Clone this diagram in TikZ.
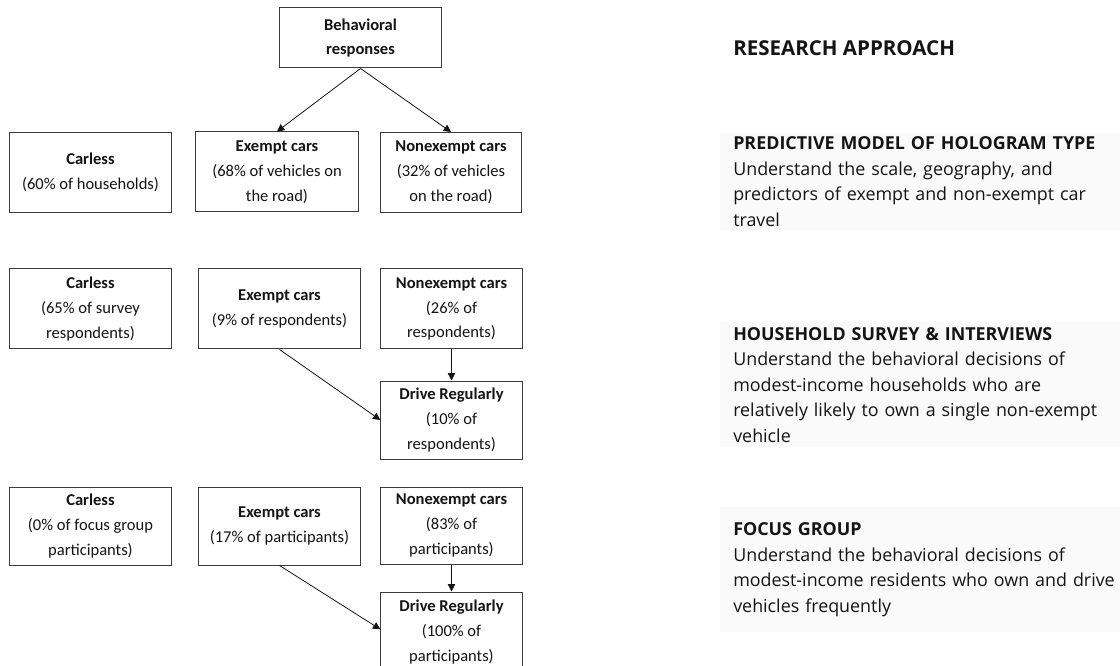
\documentclass[tikz,border=0pt]{standalone}
\usepackage{fontspec}
\setmainfont{Carlito}
\newfontfamily\notefont{Open Sans}
\usetikzlibrary{arrows.meta, positioning}
\definecolor{myline}{RGB}{60,60,60}
\definecolor{mydark}{RGB}{20,20,20}
\definecolor{hdrgray}{RGB}{250,250,250}
\tikzset{
  box/.style={rectangle, draw=myline, fill=white, align=center,
    inner sep=0pt, line width=0.75pt, text=mydark,
    font=\fontsize{12.4}{18.6}\selectfont},
  widebox/.style={box, minimum width=122pt, minimum height=60pt},
  slimbox/.style={box, minimum width=106pt, minimum height=60pt},
  note/.style={rectangle, fill=hdrgray, align=left, text=mydark,
    text width=300pt, inner xsep=9.75pt, inner ysep=0pt,
    font=\notefont\fontsize{13.4}{19.1}\selectfont},
  arrow/.style={-{Triangle[length=5.5pt,width=5.5pt]}, line width=0.6pt, color=mydark}
}

\begin{document}
\begin{tikzpicture}[x=0.75pt, y=-0.75pt]
  \useasboundingbox (0,0) rectangle (1120,666);

  % Nodes
  \node[box, minimum width=122pt, minimum height=45pt] (resp) at (360.5,38)
    {\textbf{Behavioral}\\\textbf{responses}};

  \node[widebox] (carA) at (90.5,172.5) {\textbf{Carless}\\(60\% of households)};
  \node[widebox] (exA) at (277,172) {\textbf{Exempt cars}\\(68\% of vehicles on\\the road)};
  \node[slimbox] (nexA) at (451,172.5) {\textbf{Nonexempt cars}\\(32\% of vehicles\\on the road)};

  \node[widebox] (carB) at (90.5,309) {\textbf{Carless}\\(65\% of survey\\respondents)};
  \node[widebox] (exB) at (279.5,309) {\textbf{Exempt cars}\\(9\% of respondents)};
  \node[slimbox] (nexB) at (451.5,309) {\textbf{Nonexempt cars}\\(26\% of\\respondents)};
  \node[slimbox, minimum height=58.5pt] (drvB) at (451.5,420) {\textbf{Drive Regularly}\\(10\% of\\respondents)};

  \node[widebox, minimum height=58.5pt] (carC) at (90.5,526) {\textbf{Carless}\\(0\% of focus group\\participants)};
  \node[widebox, minimum height=58.5pt] (exC) at (279.5,526) {\textbf{Exempt cars}\\(17\% of participants)};
  \node[slimbox, minimum height=57.75pt] (nexC) at (451.5,525.5) {\textbf{Nonexempt cars}\\(83\% of\\participants)};
  \node[slimbox] (drvC) at (451.5,632) {\textbf{Drive Regularly}\\(100\% of\\participants)};

  % Notes
  \node[anchor=west, inner sep=0pt, text=mydark, font=\notefont\bfseries\fontsize{15.4}{19.1}\selectfont]
    (title) at (733,48) {RESEARCH APPROACH};
  \node[note, anchor=north west, minimum height=72.75pt] (predict) at (720,133)
    {\textbf{PREDICTIVE MODEL OF HOLOGRAM TYPE}\\Understand the scale, geography, and\\predictors of exempt and non-exempt car\\travel};
  \node[note, anchor=north west, minimum height=93.75pt] (survey) at (720,322)
    {\textbf{HOUSEHOLD SURVEY \& INTERVIEWS}\\Understand the behavioral decisions of\\modest-income households who are\\relatively likely to own a single non-exempt\\vehicle};
  \node[note, anchor=north west, minimum height=93.75pt] (focus) at (720,507)
    {\textbf{FOCUS GROUP}\\Understand the behavioral decisions of\\modest-income residents who own and drive\\vehicles frequently};

  % Paths
  \draw[arrow] (resp.south) -- (exA.north);
  \draw[arrow] (resp.south) -- (nexA.north);
  \draw[arrow] (nexB.south) -- (drvB.north);
  \draw[arrow] (exB.south) -- (drvB.west);
  \draw[arrow] (nexC.south) -- (drvC.north);
  \draw[arrow] (exC.south) -- ([yshift=2pt]drvC.west);
\end{tikzpicture}
\end{document}
